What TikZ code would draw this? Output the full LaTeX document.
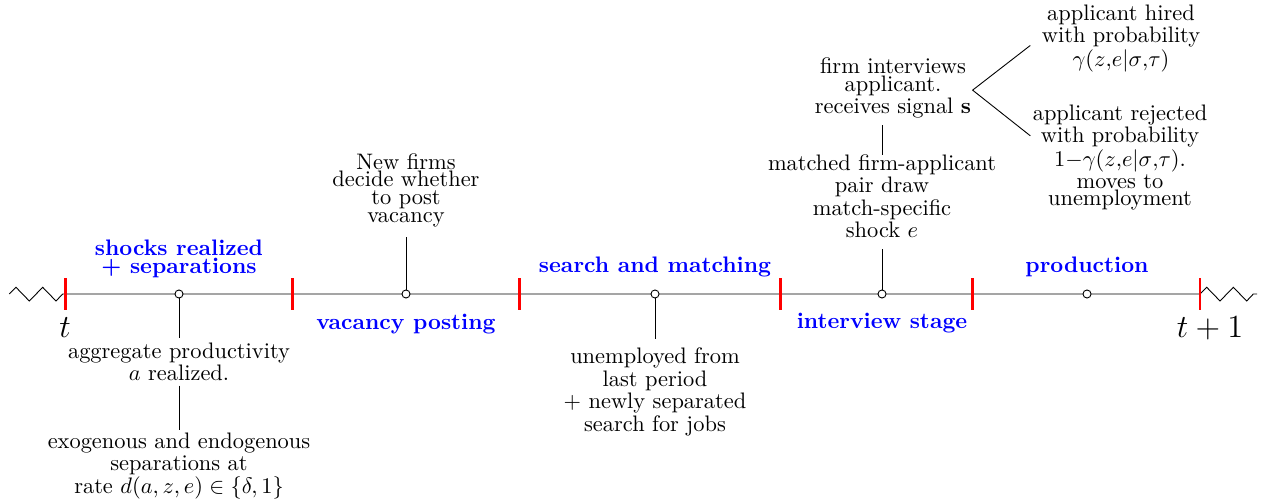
\documentclass[tikz,border=0pt]{standalone}
\usetikzlibrary{calc}
\begin{document}
\begin{tikzpicture}[x=0.446pt,y=-0.446pt,
  txt/.style={font=\fontsize{10pt}{7.9pt}\selectfont, align=center, inner sep=0pt, outer sep=0pt, anchor=north},
  phase/.style={txt, text=blue, font=\fontsize{10pt}{1pt}\selectfont\bfseries},
  timelbl/.style={font=\Large, inner sep=0pt, anchor=base},
  ev/.style={circle, draw, fill=white, inner sep=0pt, minimum size=3.6pt},
  tickmark/.style={red, line width=1.2pt},
  conn/.style={draw, black}]
\lineskip=1pt
\useasboundingbox (0,0) rectangle (1268,499);

% timeline with zigzag ends
\draw (9.3,294) -- (16,287.3) -- (29.3,301) -- (42.7,287.3) -- (56,301) -- (62.7,294)
  -- (1200,294) -- (1206.7,287.3) -- (1220,301) -- (1233.3,287.3) -- (1246.7,301) -- (1253.3,294) -- (1257,294);

\foreach \x in {65.7,292.7,519.3,780.7,972.7,1200}
  \draw[tickmark] (\x,278) -- (\x,310);

% event markers
\node[ev] (c1) at (179,294) {};
\node[ev] (c2) at (406,294) {};
\node[ev] (c3) at (655,294) {};
\node[ev] (c4) at (882,294) {};
\node[ev] (c5) at (1087,294) {};

% time labels
\node[timelbl] (t0) at (65,337) {$t$};
\node[timelbl] (t1) at (1210,337) {$t+1$};

% phase labels
\node[phase] (p1) at (179,240) {shocks realized\\+ separations};
\node[phase] (p2) at (406,314) {vacancy posting};
\node[phase] (p3) at (655,256.5) {search and matching};
\node[phase] (p4) at (882,313.5) {interview stage};
\node[phase] (p5) at (1087,256.5) {production};

% annotations
\node[txt] (A) at (179,343) {aggregate productivity\\$a$ realized.};
\node[txt] (B) at (179,433) {exogenous and endogenous\\separations at\\rate $d(a,z,e)\in\{\delta,1\}$};
\node[txt, anchor=south] (N) at (406,227) {New firms\\decide whether\\to post\\vacancy};
\node[txt] (U) at (655,348) {unemployed from\\last period\\+ newly separated\\search for jobs};
\node[txt] (C) at (882,155) {matched firm-applicant\\pair draw\\match-specific\\shock $e$};
\node[txt] (D) at (893,58) {firm interviews\\applicant.\\receives signal $\mathbf{s}$};
\node[txt] (E) at (1121,5) {applicant hired\\with probability\\$\gamma(z{,}e|\sigma{,}\tau)$};
\node[txt] (F) at (1120,105) {applicant rejected\\with probability\\$1{-}\gamma(z{,}e|\sigma{,}\tau)$.\\moves to\\unemployment};

% connectors
\draw[conn, shorten >=2.2pt] (c1) -- (A.north);
\draw[conn, shorten <=2pt, shorten >=1.3pt] (A.south) -- (B.north);
\draw[conn, shorten >=4.5pt] (c2) -- (N.south);
\draw[conn, shorten >=4pt] (c3) -- (U.north);
\draw[conn, shorten >=5pt] (c4) -- (C.south);
\draw[conn, shorten >=3pt] (C.north) -- (C.north |- D.south);
\draw[conn] ($(E.west)+(-11.6,7)$) -- ($(D.east)+(1.5,2)$) -- ($(F.west)+(-2.5,-22)$);
\end{tikzpicture}
\end{document}
